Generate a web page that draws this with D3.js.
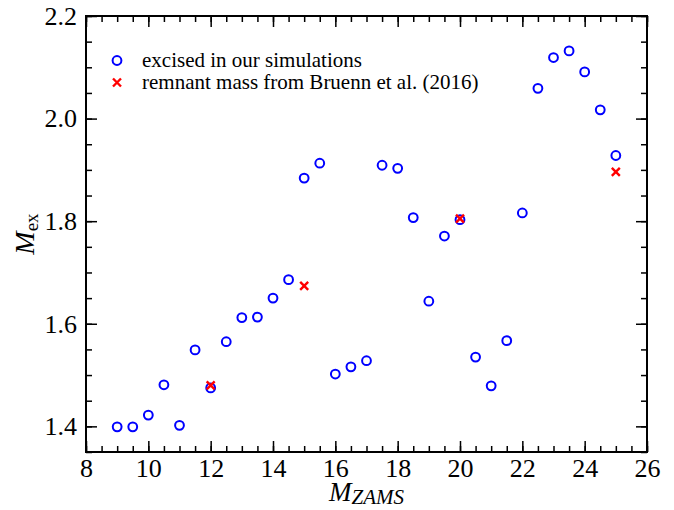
<!DOCTYPE html>
<html>
<head>
<meta charset="utf-8">
<script src="https://cdn.jsdelivr.net/npm/d3@7"></script>
<style>
  body { margin: 0; background: #fff; }
  svg text { font-family: "Liberation Serif", "DejaVu Serif", serif; fill: #000; }
</style>
</head>
<body>
<div id="chart"></div>
<script>
// masses
var zams = [9, 9.5, 10, 10.5, 11, 11.5, 12, 12.5, 13, 13.5, 14, 14.5, 15, 15.5, 16, 16.5, 17,
            17.5, 18, 18.5, 19, 19.5, 20, 20.5, 21, 21.5, 22, 22.5, 23, 23.5, 24, 24.5, 25]
var excised = [1.399, 1.399, 1.422, 1.481, 1.402, 1.549, 1.475, 1.565, 1.612, 1.613, 1.650, 1.686, 1.884, 1.913, 1.502, 1.516, 1.528,
               1.909, 1.903, 1.807, 1.644, 1.771, 1.803, 1.535, 1.479, 1.567, 1.816, 2.059, 2.119, 2.132, 2.091, 2.017, 1.928]

var bruennZams = [12, 15, 20, 25]
var bruennMass = [1.480, 1.674, 1.805, 1.896]

var xTicks = [8, 10, 12, 14, 16, 18, 20, 22, 24, 26]
var yTicks = [1.4, 1.6, 1.8, 2.0, 2.2]

var legendLabels = ["excised in our simulations", "remnant mass from Bruenn et al. (2016)"]

var width = 674, height = 510
var margin = {top: 16, right: 27, bottom: 58, left: 86}
var w = width - margin.left - margin.right
var h = height - margin.top - margin.bottom

var svg = d3.select("#chart").append("svg")
    .attr("width", width)
    .attr("height", height)

var g = svg.append("g")
    .attr("transform", "translate(" + margin.left + "," + margin.top + ")")

var x = d3.scaleLinear().domain([8, 26]).range([0, w])
var y = d3.scaleLinear().domain([1.35, 2.2]).range([h, 0])

var xMinor = d3.range(8, 26.01, 0.5)
var yMinor = d3.range(1.35, 2.2001, 0.05)

// minor ticks, inward on every side
function minor(axis, vals) {
  return axis.tickValues(vals).tickSize(-6).tickSizeOuter(0).tickFormat("")
}
g.append("g").attr("transform", "translate(0," + h + ")").call(minor(d3.axisBottom(x), xMinor))
g.append("g").call(minor(d3.axisTop(x), xMinor))
g.append("g").call(minor(d3.axisLeft(y), yMinor))
g.append("g").attr("transform", "translate(" + w + ",0)").call(minor(d3.axisRight(y), yMinor))

// major ticks
var xAxis = g.append("g")
    .attr("transform", "translate(0," + h + ")")
    .call(d3.axisBottom(x).tickValues(xTicks).tickSize(-11).tickSizeOuter(0).tickPadding(7).tickFormat(d3.format("d")))
var yAxis = g.append("g")
    .call(d3.axisLeft(y).tickValues(yTicks).tickSize(-11).tickSizeOuter(0).tickPadding(9).tickFormat(d3.format(".1f")))
g.append("g").call(d3.axisTop(x).tickValues(xTicks).tickSize(-11).tickSizeOuter(0).tickFormat(""))
g.append("g").attr("transform", "translate(" + w + ",0)")
    .call(d3.axisRight(y).tickValues(yTicks).tickSize(-11).tickSizeOuter(0).tickFormat(""))

g.selectAll(".tick line").attr("stroke", "#000").attr("stroke-width", 1.5)
g.selectAll(".domain").remove()
xAxis.selectAll("text").style("font-size", "26px")
yAxis.selectAll("text").style("font-size", "26px")

// frame
g.append("rect")
    .attr("width", w).attr("height", h)
    .attr("fill", "none").attr("stroke", "#000").attr("stroke-width", 2)

// blue open circles
g.selectAll(".ex")
  .data(zams)
  .enter()
  .append("circle")
    .attr("cx", function(d) { return x(d) })
    .attr("cy", function(d, i) { return y(excised[i]) })
    .attr("r", 4.4)
    .attr("fill", "none")
    .attr("stroke", "#0000ff")
    .attr("stroke-width", 2)

function cross(cx, cy, s) {
  return "M" + (cx - s) + "," + (cy - s) + "L" + (cx + s) + "," + (cy + s) +
         "M" + (cx - s) + "," + (cy + s) + "L" + (cx + s) + "," + (cy - s)
}

g.selectAll(".br")
  .data(bruennZams)
  .enter()
  .append("path")
    .attr("d", function(d, i) { return cross(x(d), y(bruennMass[i]), 4) })
    .attr("stroke", "#ff0000")
    .attr("stroke-width", 2.4)
    .attr("fill", "none")

// legend
var leg = svg.append("g")
leg.append("circle").attr("cx", 117).attr("cy", 60.5).attr("r", 4.4)
    .attr("fill", "none").attr("stroke", "#0000ff").attr("stroke-width", 2)
leg.append("path").attr("d", cross(117, 82.5, 4))
    .attr("stroke", "#ff0000").attr("stroke-width", 2.4)
leg.selectAll("text")
  .data(legendLabels)
  .enter()
  .append("text")
    .attr("x", 142)
    .attr("y", function(d, i) { return 66.5 + i * 22 })
    .style("font-size", "21px")
    .text(function(d) { return d })

// axis labels
var xl = svg.append("text")
    .attr("x", margin.left + w / 2)
    .attr("y", 501)
    .attr("text-anchor", "middle")
xl.append("tspan").style("font-style", "italic").style("font-size", "27px").text("M")
xl.append("tspan").style("font-style", "italic").style("font-size", "21px").attr("dy", 3).text("ZAMS")

var yl = svg.append("text")
    .attr("transform", "translate(34," + (margin.top + h / 2) + ") rotate(-90)")
    .attr("text-anchor", "middle")
yl.append("tspan").style("font-style", "italic").style("font-size", "28px").text("M")
yl.append("tspan").style("font-size", "19px").attr("dy", 4).text("ex")
</script>
</body>
</html>
